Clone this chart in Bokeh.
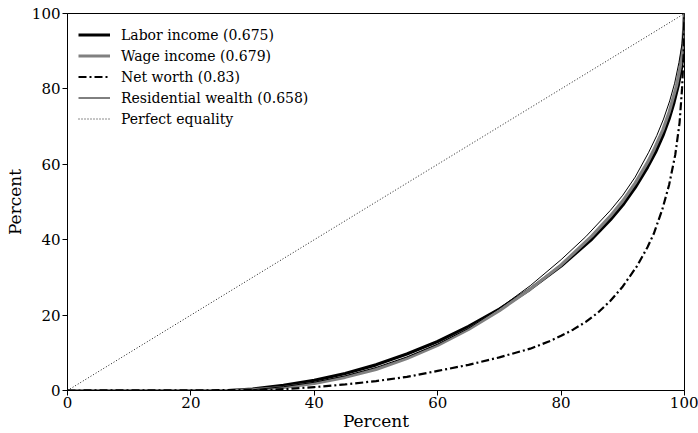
from bokeh.plotting import figure
from bokeh.models import Range1d, Legend, LegendItem, FixedTicker
from bokeh.embed import file_html
from bokeh.resources import INLINE

# Lorenz curves (percent of population, percent of total)
labor_x = [0, 26, 30, 35, 40, 45, 50, 55, 60, 65, 70, 75, 80, 85, 88, 90, 92, 94, 95.3, 96.5, 97.5, 98.3, 99, 99.5, 99.8, 100]
labor_y = [0, 0, 0.4, 1.4, 2.7, 4.5, 6.8, 9.7, 13.0, 17.0, 21.6, 26.9, 33.0, 40.2, 45.3, 49.2, 53.8, 59.2, 63.2, 67.6, 72.0, 76.4, 81.0, 85.5, 90.0, 100]

wage_x = [0, 26, 30, 35, 40, 45, 50, 55, 60, 65, 70, 75, 80, 85, 88, 90, 92, 94, 95, 96.5, 97.5, 98.7, 99.3, 99.7, 100]
wage_y = [0, 0, 0.2, 0.8, 1.9, 3.5, 5.6, 8.5, 12.0, 16.2, 21.2, 26.9, 33.3, 41.0, 46.3, 50.3, 55.0, 60.5, 63.7, 69.2, 73.8, 80.8, 85.8, 91.0, 100]

net_x = [0, 32, 35, 40, 45, 50, 55, 60, 65, 70, 75, 78, 80, 82, 84, 86, 88, 90, 92.3, 94, 95, 96.4, 97.5, 98.5, 99.2, 99.6, 99.85, 100]
net_y = [0, 0.1, 0.35, 0.9, 1.6, 2.5, 3.6, 5.2, 6.8, 8.8, 11.1, 13.0, 14.5, 16.2, 18.2, 20.7, 23.8, 27.6, 33.0, 38.0, 41.5, 48.0, 54.5, 62.5, 71.0, 80.0, 89.0, 100]

res_x = [0, 28, 30, 35, 40, 45, 50, 55, 60, 65, 70, 75, 80, 84, 88, 90, 92, 94.2, 95.5, 96.6, 97.6, 98.4, 99.1, 99.6, 100]
res_y = [0, 0, 0.2, 1.0, 2.2, 3.9, 6.1, 8.9, 12.3, 16.5, 21.8, 27.8, 34.7, 40.8, 47.8, 51.8, 56.6, 63.2, 67.6, 72.0, 76.8, 81.5, 87.0, 92.0, 100]

eq_x = [0, 100]
eq_y = [0, 100]

labels = ["Labor income (0.675)", "Wage income (0.679)", "Net worth (0.83)",
          "Residential wealth (0.658)", "Perfect equality"]
ticks = [0, 20, 40, 60, 80, 100]

FONT = "DejaVu Serif"

p = figure(width=698, height=433, output_backend="svg", toolbar_location=None,
           x_range=Range1d(0, 100), y_range=Range1d(0, 100),
           min_border_left=67, min_border_right=14, min_border_top=13, min_border_bottom=42)

r_labor = p.line(labor_x, labor_y, line_color="black", line_width=3.2, line_join="round")
r_wage = p.line(wage_x, wage_y, line_color="#808080", line_width=3.2, line_join="round")
r_net = p.line(net_x, net_y, line_color="black", line_width=2.2, line_dash="8 3 2 3", line_join="round")
r_res = p.line(res_x, res_y, line_color="black", line_width=1.0, line_join="round")
r_eq = p.line(eq_x, eq_y, line_color="black", line_width=0.9, line_dash="1 2")

p.grid.visible = False
p.outline_line_color = "black"
p.outline_line_width = 1
p.background_fill_color = "white"
p.border_fill_color = "white"

for ax in (p.xaxis[0], p.yaxis[0]):
    ax.ticker = FixedTicker(ticks=ticks)
    ax.axis_label = "Percent"
    ax.axis_label_text_font = FONT
    ax.axis_label_text_font_style = "normal"
    ax.axis_label_text_font_size = "17px"
    ax.axis_label_text_color = "black"
    ax.major_label_text_font = FONT
    ax.major_label_text_font_size = "15px"
    ax.major_label_text_color = "black"
    ax.axis_line_color = "black"
    ax.major_tick_line_color = "black"
    ax.major_tick_out = 5
    ax.major_tick_in = 0
    ax.minor_tick_line_color = None
    ax.major_label_standoff = 2
    ax.axis_label_standoff = 4

p.xaxis[0].axis_label_standoff = 0
p.xaxis[0].major_label_standoff = 1

legend = Legend(items=[LegendItem(label=l, renderers=[r]) for l, r in
                       zip(labels, [r_labor, r_wage, r_net, r_res, r_eq])],
                location="top_left",
                label_text_font=FONT, label_text_font_size="14px",
                label_text_font_style="normal", label_text_color="black",
                border_line_alpha=0, background_fill_alpha=0,
                margin=8, padding=3, spacing=0,
                glyph_width=32, glyph_height=21, label_height=21, label_standoff=11)
p.add_layout(legend)

open("out.html", "w").write(file_html(p, INLINE))
